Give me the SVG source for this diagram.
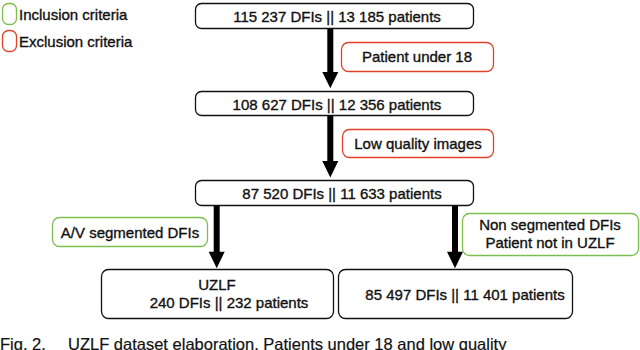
<svg xmlns="http://www.w3.org/2000/svg" width="640" height="350" viewBox="0 0 640 350">
<style>
  text { font-family: "Liberation Sans", Arial, sans-serif; font-size: 15px; fill: #111; stroke: #111; stroke-width: 0.35; }
  .c { text-anchor: middle; }
  .cap { font-size: 16.5px; stroke-width: 0.2; }
  .box { fill: #fff; stroke: #111; stroke-width: 1.3; }
  .inc { fill: #fff; stroke: #7cbf4f; stroke-width: 1.3; }
  .exc { fill: #fff; stroke: #e0412b; stroke-width: 1.3; }
  .arrow { fill: #000; }
</style>
<rect width="640" height="350" fill="#fff"/>
<g id="legend">
  <rect class="inc" x="2.5" y="3.5" width="14" height="21" rx="6"/>
  <text x="19" y="20">Inclusion criteria</text>
  <rect class="exc" x="2.5" y="30.5" width="14" height="21" rx="6"/>
  <text x="19" y="47">Exclusion criteria</text>
</g>
<g id="connectors">
  <path class="arrow" d="M327.3,28 H333.3 V72 H338.3 L330.3,88.3 L322.3,72 H327.3 Z"/>
  <path class="arrow" d="M327.3,116 H333.3 V161 H338.3 L330.3,177.5 L322.3,161 H327.3 Z"/>
  <path class="arrow" d="M213.7,205 H219.7 V251.7 H224.7 L216.7,268.3 L208.7,251.7 H213.7 Z"/>
  <path class="arrow" d="M452,205 H458 V251.7 H463 L455,268.3 L447,251.7 H452 Z"/>
</g>
<g id="n1">
  <rect class="box" x="195.5" y="3.5" width="278" height="25" rx="6"/>
  <text class="c" x="337" y="22">115 237 DFIs || 13 185 patients</text>
</g>
<g id="e1">
  <rect class="exc" x="341.5" y="42.5" width="152" height="29" rx="7"/>
  <text class="c" x="417" y="62">Patient under 18</text>
</g>
<g id="n2">
  <rect class="box" x="195.5" y="91.5" width="278" height="24" rx="6"/>
  <text class="c" x="337" y="110">108 627 DFIs || 12 356 patients</text>
</g>
<g id="e2">
  <rect class="exc" x="342.5" y="129.5" width="151" height="28" rx="7"/>
  <text class="c" x="418" y="149">Low quality images</text>
</g>
<g id="n3">
  <rect class="box" x="195.5" y="180.5" width="278" height="25" rx="6"/>
  <text class="c" x="342" y="199">87 520 DFIs || 11 633 patients</text>
</g>
<g id="i1">
  <rect class="inc" x="52.5" y="217.5" width="155" height="29" rx="7"/>
  <text class="c" x="130" y="238">A/V segmented DFIs</text>
</g>
<g id="i2">
  <rect class="inc" x="462.5" y="213.5" width="176" height="42" rx="7"/>
  <text class="c" x="550" y="230">Non segmented DFIs</text>
  <text class="c" x="550" y="248">Patient not in UZLF</text>
</g>
<g id="n4">
  <rect class="box" x="101.5" y="269.5" width="232" height="49" rx="7"/>
  <text class="c" x="217" y="290">UZLF</text>
  <text class="c" x="229" y="308">240 DFIs || 232 patients</text>
</g>
<g id="n5">
  <rect class="box" x="338.5" y="269.5" width="234" height="49" rx="7"/>
  <text class="c" x="465" y="300">85 497 DFIs || 11 401 patients</text>
</g>
<g id="caption">
  <text class="cap" x="0" y="350">Fig. 2.</text>
  <text class="cap" x="68" y="350">UZLF dataset elaboration. Patients under 18 and low quality</text>
</g>
</svg>
